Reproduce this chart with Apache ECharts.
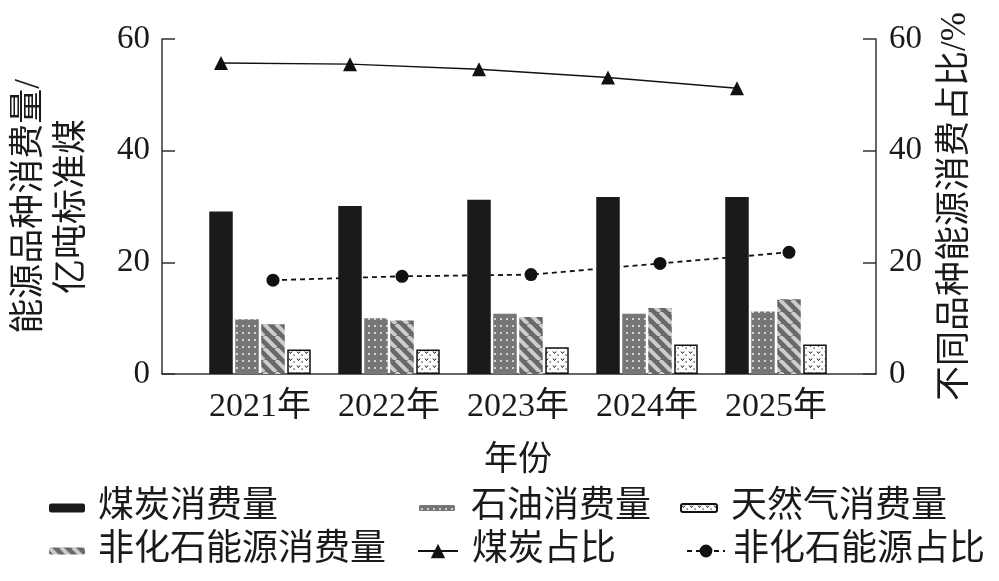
<!DOCTYPE html>
<html><head><meta charset="utf-8">
<script src="https://cdn.jsdelivr.net/npm/echarts@6/dist/echarts.min.js"></script>
<style>html,body{margin:0;padding:0;background:#fff;}#c{width:999px;height:581px;}</style>
</head><body><div id="c"></div>
<script>
const years = ['2021年','2022年','2023年','2024年','2025年'];
const coalUse = [29.1, 30.1, 31.2, 31.7, 31.7];
const oilUse = [9.8, 10.0, 10.8, 10.8, 11.2];
const nonFossilUse = [8.9, 9.6, 10.2, 11.8, 13.4];
const gasUse = [4.4, 4.4, 4.8, 5.3, 5.3];
const coalShare = [55.7, 55.5, 54.6, 53.1, 51.2];
const nonFossilShare = [16.8, 17.5, 17.8, 19.8, 21.8];
const yTicks = [0, 20, 40, 60];

const FONT = 'Liberation Serif, Noto Sans CJK SC';
const TXT = '#1a1a1a';

function makeCanvas(w, h, draw) {
  const c = document.createElement('canvas');
  c.width = w; c.height = h;
  draw(c.getContext('2d'));
  return c;
}
const oilPat = makeCanvas(6, 7, g => {
  g.fillStyle = '#767676'; g.fillRect(0, 0, 6, 7);
  g.fillStyle = '#d2d2d2'; g.fillRect(2, 3, 2, 2);
});
const stripePat = makeCanvas(12, 12, g => {
  g.fillStyle = '#686868'; g.fillRect(0, 0, 12, 12);
  g.strokeStyle = '#cccccc'; g.lineWidth = 4;
  [-12, 0, 12].forEach(k => { g.beginPath(); g.moveTo(k, 0); g.lineTo(k + 12, 12); g.stroke(); });
});
const gasPat = makeCanvas(8, 7, g => {
  g.fillStyle = '#ffffff'; g.fillRect(0, 0, 8, 7);
  g.strokeStyle = '#111'; g.lineWidth = 1;
  g.beginPath(); g.moveTo(1, 1.5); g.lineTo(2.5, 3.5); g.lineTo(4, 1.5); g.stroke();
  g.fillStyle = '#111'; g.fillRect(5.5, 4.5, 1.2, 1.2);
});

// layout constants (pixels)
const barW = 23.5, gapPx = 2.5, catW = 129;
const coalOff = -1.5 * (barW + gapPx) / catW;
const nfOff = 0.5 * (barW + gapPx) / catW;

const chart = echarts.init(document.getElementById('c'));
const legendBase = (name, left, top, w, h, pad) => ({
  data: [name], left: left, top: top, itemWidth: w, itemHeight: h, padding: 0,
  selectedMode: false,
  textStyle: { fontFamily: FONT, fontSize: 36, color: TXT, lineHeight: 36, padding: [0, 0, 0, pad] }
});

chart.setOption({
  animation: false,
  backgroundColor: '#fff',
  grid: [
    { left: 161, right: 123, top: 39, bottom: 207 },
    { left: 195.5, right: 158.5, top: 39, bottom: 207 }
  ],
  legend: [
    legendBase('煤炭消费量', 49, 490, 36, 9, 8),
    legendBase('石油消费量', 419, 490, 36, 6, 11),
    legendBase('天然气消费量', 680, 490, 36, 8, 9),
    legendBase('非化石能源消费量', 49, 533, 36, 7, 8),
    legendBase('煤炭占比', 417, 533, 40, 18, 9),
    legendBase('非化石能源占比', 686, 533, 38, 16, 3)
  ],
  xAxis: [
    { gridIndex: 0, type: 'category', data: [''], axisTick: { show: false }, axisLabel: { show: false },
      axisLine: { lineStyle: { color: '#333', width: 1.5 } } },
    { gridIndex: 1, type: 'category', data: years,
      axisLine: { show: false }, axisTick: { show: false },
      axisLabel: { interval: 0, fontFamily: FONT, fontSize: 34, color: TXT, margin: 16 },
      name: '年份', nameLocation: 'middle', nameGap: 70,
      nameTextStyle: { fontFamily: FONT, fontSize: 34, color: TXT } },
    { gridIndex: 1, type: 'value', min: -0.5, max: 4.5, show: false }
  ],
  yAxis: [
    { gridIndex: 0, type: 'value', min: 0, max: 60, interval: 20, position: 'left',
      splitLine: { show: false },
      axisLine: { show: true, lineStyle: { color: '#333', width: 1.5 } },
      axisTick: { show: true, inside: true, length: 13, lineStyle: { color: '#333', width: 1.5 } },
      axisLabel: { fontFamily: FONT, fontSize: 33, color: TXT, margin: 12 },
      name: '能源品种消费量/\n亿吨标准煤', nameLocation: 'middle', nameRotate: 90, nameGap: 68,
      nameTextStyle: { fontFamily: FONT, fontSize: 35, color: TXT, lineHeight: 43 } },
    { gridIndex: 0, type: 'value', min: 0, max: 60, interval: 20, position: 'right',
      splitLine: { show: false },
      axisLine: { show: true, lineStyle: { color: '#333', width: 1.5 } },
      axisTick: { show: true, inside: true, length: 13, lineStyle: { color: '#333', width: 1.5 } },
      axisLabel: { fontFamily: FONT, fontSize: 33, color: TXT, margin: 13 },
      name: '不同品种能源消费占比/%', nameLocation: 'middle', nameRotate: 90, nameGap: 62,
      nameTextStyle: { fontFamily: FONT, fontSize: 35, color: TXT } },
    { gridIndex: 1, type: 'value', min: 0, max: 60, show: false },
    { gridIndex: 1, type: 'value', min: 0, max: 60, show: false }
  ],
  series: [
    { name: '煤炭消费量', type: 'bar', xAxisIndex: 1, yAxisIndex: 2, data: coalUse,
      barWidth: barW, barGap: (gapPx / barW * 100) + '%', z: 3,
      itemStyle: { color: '#1a1a1a' } },
    { name: '石油消费量', type: 'bar', xAxisIndex: 1, yAxisIndex: 2, data: oilUse,
      barWidth: barW, z: 3,
      itemStyle: { color: { image: oilPat, repeat: 'repeat' } } },
    { name: '非化石能源消费量', type: 'bar', xAxisIndex: 1, yAxisIndex: 2, data: nonFossilUse,
      barWidth: barW, z: 3,
      itemStyle: { color: { image: stripePat, repeat: 'repeat' } } },
    { name: '天然气消费量', type: 'bar', xAxisIndex: 1, yAxisIndex: 2, data: gasUse,
      barWidth: barW, z: 3,
      itemStyle: { color: { image: gasPat, repeat: 'repeat' }, borderColor: '#111', borderWidth: 1.5 } },
    { name: '煤炭占比', type: 'line', xAxisIndex: 2, yAxisIndex: 3, z: 4,
      data: coalShare.map((v, i) => [i + coalOff, v]),
      symbol: 'triangle', symbolSize: 14,
      lineStyle: { color: '#111', width: 1.5 }, itemStyle: { color: '#111' } },
    { name: '非化石能源占比', type: 'line', xAxisIndex: 2, yAxisIndex: 3, z: 1,
      data: nonFossilShare.map((v, i) => [i + nfOff, v]),
      symbol: 'circle', symbolSize: 13,
      lineStyle: { color: '#111', width: 1.8, type: [5, 4] }, itemStyle: { color: '#111' } }
  ]
});
</script></body></html>
